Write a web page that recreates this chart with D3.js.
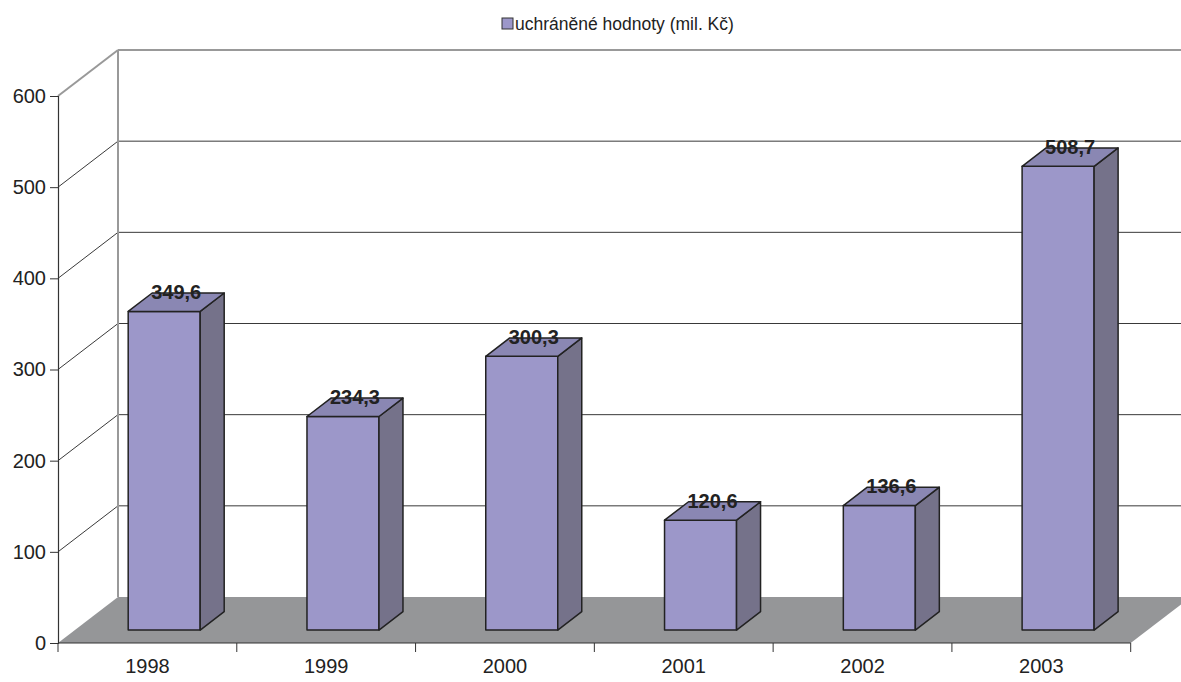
<!DOCTYPE html>
<html>
<head>
<meta charset="utf-8">
<script src="https://cdn.jsdelivr.net/npm/d3@7"></script>
<style>
  body { margin: 0; background: #fff; }
  svg { display: block; }
</style>
</head>
<body>
<div id="chart"></div>
<script>
var years = ["1998", "1999", "2000", "2001", "2002", "2003"];
var values = [349.6, 234.3, 300.3, 120.6, 136.6, 508.7];
var labels = ["349,6", "234,3", "300,3", "120,6", "136,6", "508,7"];
var yTicks = [0, 100, 200, 300, 400, 500, 600];
var seriesName = "uchráněné hodnoty (mil. Kč)";

var width = 1181, height = 682;
var font = "Liberation Sans, Arial, Helvetica, sans-serif";

// depth of the 3d box
var depthX = 60, depthY = 46;
var barZ0 = 0.28, barZ1 = 0.68;

var svg = d3.select("#chart").append("svg")
    .attr("width", width)
    .attr("height", height);

var x = d3.scaleBand()
    .domain(years)
    .range([58, 1130.7]);

var y = d3.scaleLinear()
    .domain([0, 600])
    .range([643, 96]);

/* project a point (plane x, value, depth 0..1) */
function p(px, v, z) {
  return [px + z * depthX, y(v) - z * depthY];
}
function poly(pts) {
  return pts.map(function(d) { return d.join(","); }).join(" ");
}

var x0 = x.range()[0], x1 = x.range()[1];

/* floor */
svg.append("polygon")
    .attr("points", poly([p(x0, 0, 0), p(x1, 0, 0), p(x1, 0, 1), p(x0, 0, 1)]))
    .attr("fill", "#959698");

/* back wall + side wall gridlines */
var grid = svg.append("g");
yTicks.filter(function(t) { return t > 0; }).forEach(function(t) {
  var top = t === 600;
  grid.append("line")
      .attr("x1", p(x0, t, 1)[0]).attr("y1", p(x0, t, 1)[1])
      .attr("x2", width).attr("y2", p(x0, t, 1)[1])
      .attr("stroke", top ? "#999" : "#222")
      .attr("stroke-width", top ? 2 : 0.9);
  grid.append("line")
      .attr("x1", p(x0, t, 0)[0]).attr("y1", p(x0, t, 0)[1])
      .attr("x2", p(x0, t, 1)[0]).attr("y2", p(x0, t, 1)[1])
      .attr("stroke", top ? "#999" : "#222")
      .attr("stroke-width", top ? 2 : 0.9);
});
grid.append("line")
    .attr("x1", p(x0, 0, 1)[0]).attr("y1", p(x0, 0, 1)[1])
    .attr("x2", p(x0, 600, 1)[0]).attr("y2", p(x0, 600, 1)[1])
    .attr("stroke", "#999")
    .attr("stroke-width", 2);

/* bars */
var bars = svg.selectAll("g.bar")
    .data(years.map(function(yr, i) { return { year: yr, value: values[i], label: labels[i] }; }))
    .enter().append("g")
    .attr("class", "bar");

var bw = 72;
function bl(d) { return x(d.year) + x.bandwidth() / 2 - bw / 2; }

bars.append("polygon") // front
    .attr("points", function(d) {
      var l = bl(d), r = l + bw;
      return poly([p(l, 0, barZ0), p(r, 0, barZ0), p(r, d.value, barZ0), p(l, d.value, barZ0)]);
    })
    .attr("fill", "#9c97c9");
bars.append("polygon") // side
    .attr("points", function(d) {
      var r = bl(d) + bw;
      return poly([p(r, 0, barZ0), p(r, 0, barZ1), p(r, d.value, barZ1), p(r, d.value, barZ0)]);
    })
    .attr("fill", "#75728a");
bars.append("polygon") // top
    .attr("points", function(d) {
      var l = bl(d), r = l + bw;
      return poly([p(l, d.value, barZ0), p(r, d.value, barZ0), p(r, d.value, barZ1), p(l, d.value, barZ1)]);
    })
    .attr("fill", "#8a87b3");
bars.selectAll("polygon")
    .attr("stroke", "#222")
    .attr("stroke-width", 1.5)
    .attr("stroke-linejoin", "round");

bars.append("text")
    .attr("x", function(d) { return bl(d) + bw / 2 + (barZ0 + barZ1) / 2 * depthX; })
    .attr("y", function(d) { return y(d.value) - (barZ0 + barZ1) / 2 * depthY - 3; })
    .attr("text-anchor", "middle")
    .style("font", "bold 20px " + font)
    .attr("fill", "#222")
    .text(function(d) { return d.label; });

/* axes */
var yAxis = svg.append("g")
    .attr("transform", "translate(" + x0 + ",0)")
    .call(d3.axisLeft(y).tickValues(yTicks).tickSize(8).tickPadding(4).tickFormat(d3.format("d")));
var xAxis = svg.append("g")
    .attr("transform", "translate(0," + y(0) + ")")
    .call(d3.axisBottom(x).tickSize(0).tickPadding(16));

// category boundary ticks
svg.append("g").selectAll("line")
    .data(years.concat(["end"]))
    .enter().append("line")
    .attr("x1", function(d, i) { return x0 + i * x.step(); })
    .attr("x2", function(d, i) { return x0 + i * x.step(); })
    .attr("y1", y(0))
    .attr("y2", y(0) + 9)
    .attr("stroke", "#333")
    .attr("stroke-width", 1);

[yAxis, xAxis].forEach(function(a) {
  a.select(".domain").attr("stroke", "#333").attr("stroke-width", 1.2);
  a.selectAll(".tick line").attr("stroke", "#333");
  a.selectAll(".tick text")
      .style("font", "20px " + font)
      .attr("fill", "#222");
});
xAxis.select(".domain").attr("d", "M" + x0 + ",0H" + x1);

/* legend */
var legend = svg.append("g").attr("transform", "translate(502,18)");
legend.append("rect")
    .attr("width", 11).attr("height", 11)
    .attr("fill", "#9c97c9")
    .attr("stroke", "#333")
    .attr("stroke-width", 1);
legend.append("text")
    .attr("x", 13).attr("y", 12)
    .style("font", "17.5px " + font)
    .attr("fill", "#222")
    .text(seriesName);
</script>
</body>
</html>
